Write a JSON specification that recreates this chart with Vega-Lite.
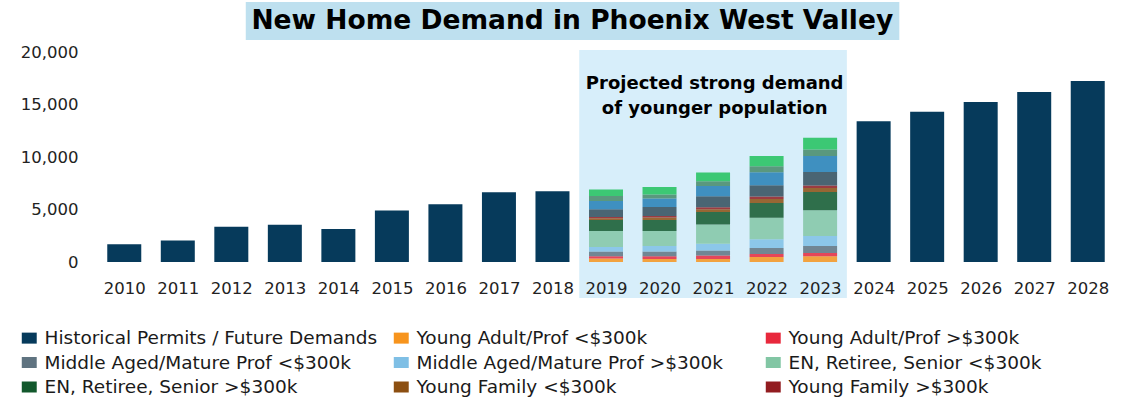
{
  "$schema": "https://vega.github.io/schema/vega-lite/v6.json",
  "width": 1027,
  "height": 210,
  "autosize": {"type": "none"},
  "padding": {"left": 92.5, "top": 52, "right": 20.5, "bottom": 140},
  "background": "white",
  "config": {"view": {"stroke": null}, "font": "DejaVu Sans"},
  "datasets": {
    "demand": [
      {"year": 2010, "series": "Historical Permits / Future Demands", "value": 1700},
      {"year": 2011, "series": "Historical Permits / Future Demands", "value": 2050},
      {"year": 2012, "series": "Historical Permits / Future Demands", "value": 3350},
      {"year": 2013, "series": "Historical Permits / Future Demands", "value": 3550},
      {"year": 2014, "series": "Historical Permits / Future Demands", "value": 3150},
      {"year": 2015, "series": "Historical Permits / Future Demands", "value": 4900},
      {"year": 2016, "series": "Historical Permits / Future Demands", "value": 5500},
      {"year": 2017, "series": "Historical Permits / Future Demands", "value": 6650},
      {"year": 2018, "series": "Historical Permits / Future Demands", "value": 6750},
      {"year": 2024, "series": "Historical Permits / Future Demands", "value": 13400},
      {"year": 2025, "series": "Historical Permits / Future Demands", "value": 14300},
      {"year": 2026, "series": "Historical Permits / Future Demands", "value": 15250},
      {"year": 2027, "series": "Historical Permits / Future Demands", "value": 16200},
      {"year": 2028, "series": "Historical Permits / Future Demands", "value": 17250},

      {"year": 2019, "series": "Young Adult/Prof <$300k", "value": 325},
      {"year": 2019, "series": "Young Adult/Prof >$300k", "value": 220},
      {"year": 2019, "series": "Middle Aged/Mature Prof <$300k", "value": 450},
      {"year": 2019, "series": "Middle Aged/Mature Prof >$300k", "value": 440},
      {"year": 2019, "series": "EN, Retiree, Senior <$300k", "value": 1525},
      {"year": 2019, "series": "EN, Retiree, Senior >$300k", "value": 1050},
      {"year": 2019, "series": "Young Family <$300k", "value": 160},
      {"year": 2019, "series": "Young Family >$300k", "value": 125},
      {"year": 2019, "series": "Other 1", "value": 730},
      {"year": 2019, "series": "Other 2", "value": 790},
      {"year": 2019, "series": "Other 3", "value": 475},
      {"year": 2019, "series": "Other 4", "value": 610},

      {"year": 2020, "series": "Young Adult/Prof <$300k", "value": 285},
      {"year": 2020, "series": "Young Adult/Prof >$300k", "value": 255},
      {"year": 2020, "series": "Middle Aged/Mature Prof <$300k", "value": 450},
      {"year": 2020, "series": "Middle Aged/Mature Prof >$300k", "value": 535},
      {"year": 2020, "series": "EN, Retiree, Senior <$300k", "value": 1430},
      {"year": 2020, "series": "EN, Retiree, Senior >$300k", "value": 1050},
      {"year": 2020, "series": "Young Family <$300k", "value": 230},
      {"year": 2020, "series": "Young Family >$300k", "value": 150},
      {"year": 2020, "series": "Other 1", "value": 855},
      {"year": 2020, "series": "Other 2", "value": 800},
      {"year": 2020, "series": "Other 3", "value": 380},
      {"year": 2020, "series": "Other 4", "value": 725},

      {"year": 2021, "series": "Young Adult/Prof <$300k", "value": 285},
      {"year": 2021, "series": "Young Adult/Prof >$300k", "value": 325},
      {"year": 2021, "series": "Middle Aged/Mature Prof <$300k", "value": 475},
      {"year": 2021, "series": "Middle Aged/Mature Prof >$300k", "value": 665},
      {"year": 2021, "series": "EN, Retiree, Senior <$300k", "value": 1810},
      {"year": 2021, "series": "EN, Retiree, Senior >$300k", "value": 1200},
      {"year": 2021, "series": "Young Family <$300k", "value": 255},
      {"year": 2021, "series": "Young Family >$300k", "value": 190},
      {"year": 2021, "series": "Other 1", "value": 1050},
      {"year": 2021, "series": "Other 2", "value": 980},
      {"year": 2021, "series": "Other 3", "value": 450},
      {"year": 2021, "series": "Other 4", "value": 830},

      {"year": 2022, "series": "Young Adult/Prof <$300k", "value": 475},
      {"year": 2022, "series": "Young Adult/Prof >$300k", "value": 285},
      {"year": 2022, "series": "Middle Aged/Mature Prof <$300k", "value": 570},
      {"year": 2022, "series": "Middle Aged/Mature Prof >$300k", "value": 830},
      {"year": 2022, "series": "EN, Retiree, Senior <$300k", "value": 2065},
      {"year": 2022, "series": "EN, Retiree, Senior >$300k", "value": 1390},
      {"year": 2022, "series": "Young Family <$300k", "value": 380},
      {"year": 2022, "series": "Young Family >$300k", "value": 255},
      {"year": 2022, "series": "Other 1", "value": 1050},
      {"year": 2022, "series": "Other 2", "value": 1240},
      {"year": 2022, "series": "Other 3", "value": 570},
      {"year": 2022, "series": "Other 4", "value": 980},

      {"year": 2023, "series": "Young Adult/Prof <$300k", "value": 540},
      {"year": 2023, "series": "Young Adult/Prof >$300k", "value": 315},
      {"year": 2023, "series": "Middle Aged/Mature Prof <$300k", "value": 665},
      {"year": 2023, "series": "Middle Aged/Mature Prof >$300k", "value": 950},
      {"year": 2023, "series": "EN, Retiree, Senior <$300k", "value": 2450},
      {"year": 2023, "series": "EN, Retiree, Senior >$300k", "value": 1740},
      {"year": 2023, "series": "Young Family <$300k", "value": 380},
      {"year": 2023, "series": "Young Family >$300k", "value": 255},
      {"year": 2023, "series": "Other 1", "value": 1270},
      {"year": 2023, "series": "Other 2", "value": 1525},
      {"year": 2023, "series": "Other 3", "value": 635},
      {"year": 2023, "series": "Other 4", "value": 1115}
    ]
  },
  "layer": [
    {
      "data": {"values": [{}]},
      "mark": {"type": "rect", "fill": "#d7eefa"},
      "encoding": {
        "x": {"datum": 2018.5, "type": "quantitative", "scale": {"domain": [2009.5, 2028.5], "nice": false, "zero": false}},
        "x2": {"datum": 2023.5},
        "y": {"datum": -3430, "type": "quantitative", "scale": {"domain": [0, 20000], "nice": false}},
        "y2": {"datum": 20190}
      }
    },
    {
      "data": {"values": [{}]},
      "mark": {"type": "rect", "fill": "#bee0ef"},
      "encoding": {
        "x": {"datum": 2012.27, "type": "quantitative", "scale": {"domain": [2009.5, 2028.5], "nice": false, "zero": false}},
        "x2": {"datum": 2024.48},
        "y": {"datum": 21143, "type": "quantitative", "scale": {"domain": [0, 20000], "nice": false}},
        "y2": {"datum": 24762}
      }
    },
    {
      "data": {"name": "demand"},
      "transform": [
        {"calculate": "indexof(['Historical Permits / Future Demands', 'Young Adult/Prof <$300k', 'Young Adult/Prof >$300k', 'Middle Aged/Mature Prof <$300k', 'Middle Aged/Mature Prof >$300k', 'EN, Retiree, Senior <$300k', 'EN, Retiree, Senior >$300k', 'Young Family <$300k', 'Young Family >$300k', 'Other 1', 'Other 2', 'Other 3', 'Other 4'], datum.series)", "as": "stackOrder"}
      ],
      "mark": {"type": "bar", "width": 34},
      "encoding": {
        "x": {
          "field": "year", "type": "quantitative",
          "scale": {"domain": [2009.5, 2028.5], "nice": false, "zero": false},
          "axis": {
            "title": null, "values": [2010, 2011, 2012, 2013, 2014, 2015, 2016, 2017, 2018, 2019, 2020, 2021, 2022, 2023, 2024, 2025, 2026, 2027, 2028],
            "labelExpr": "format(datum.value, 'd')", "zindex": 1,
            "grid": false, "domain": false, "ticks": false, "tickSize": 0,
            "labelPadding": 18, "labelFont": "DejaVu Sans", "labelFontSize": 16.5, "labelColor": "#222222", "labelFlush": false, "labelOverlap": false
          }
        },
        "y": {
          "field": "value", "type": "quantitative", "stack": "zero",
          "scale": {"domain": [0, 20000], "nice": false},
          "axis": {
            "title": null, "values": [0, 5000, 10000, 15000, 20000],
            "labelExpr": "format(datum.value, ',')", "zindex": 1,
            "grid": false, "domain": false, "ticks": false, "tickSize": 0,
            "labelPadding": 14.5, "labelFont": "DejaVu Sans", "labelFontSize": 16.5, "labelColor": "#222222"
          }
        },
        "order": {"field": "stackOrder", "type": "quantitative", "sort": "ascending"},
        "color": {
          "field": "series", "type": "nominal",
          "sort": ["Historical Permits / Future Demands", "Young Adult/Prof <$300k", "Young Adult/Prof >$300k", "Middle Aged/Mature Prof <$300k", "Middle Aged/Mature Prof >$300k", "EN, Retiree, Senior <$300k", "EN, Retiree, Senior >$300k", "Young Family <$300k", "Young Family >$300k", "Other 1", "Other 2", "Other 3", "Other 4"],
          "scale": {
            "domain": ["Historical Permits / Future Demands", "Young Adult/Prof <$300k", "Young Adult/Prof >$300k", "Middle Aged/Mature Prof <$300k", "Middle Aged/Mature Prof >$300k", "EN, Retiree, Senior <$300k", "EN, Retiree, Senior >$300k", "Young Family <$300k", "Young Family >$300k", "Other 1", "Other 2", "Other 3", "Other 4"],
            "range": ["#063a5b", "#f7941d", "#e8283c", "#5f7380", "#7fbfe5", "#82c6a4", "#12582c", "#8c4f11", "#921c20", "#314c5b", "#257fb5", "#448867", "#21c15c"]
          },
          "legend": {
            "values": ["Historical Permits / Future Demands", "Young Adult/Prof <$300k", "Young Adult/Prof >$300k", "Middle Aged/Mature Prof <$300k", "Middle Aged/Mature Prof >$300k", "EN, Retiree, Senior <$300k", "EN, Retiree, Senior >$300k", "Young Family <$300k", "Young Family >$300k"],
            "orient": "none", "legendX": -72.5, "legendY": 276.75, "direction": "horizontal", "columns": 3,
            "title": null, "padding": 0, "gridAlign": "all", "columnPadding": 14, "rowPadding": 5.5,
            "labelFont": "DejaVu Sans", "labelFontSize": 18.5, "labelColor": "#1a1a1a", "labelLimit": 600, "labelOffset": 6,
            "symbolType": "M-1.36,-1H1.36V1H-1.36Z", "symbolSize": 121, "symbolOpacity": 1, "symbolStrokeWidth": 0
          }
        },
        "opacity": {
          "condition": {"test": "datum.series === 'Historical Permits / Future Demands'", "value": 1},
          "value": 0.85
        }
      }
    },
    {
      "data": {"values": [{}]},
      "mark": {"type": "text", "text": "New Home Demand in Phoenix West Valley", "font": "DejaVu Sans", "fontWeight": "bold", "fontSize": 26.5, "color": "#000000", "align": "center", "baseline": "middle"},
      "encoding": {
        "x": {"datum": 2018.37, "type": "quantitative", "scale": {"domain": [2009.5, 2028.5], "nice": false, "zero": false}},
        "y": {"datum": 22950, "type": "quantitative", "scale": {"domain": [0, 20000], "nice": false}}
      }
    },
    {
      "data": {"values": [{}]},
      "mark": {"type": "text", "text": ["Projected strong demand", "of younger population"], "font": "DejaVu Sans", "fontWeight": "bold", "fontSize": 18, "lineHeight": 25, "color": "#000000", "align": "center", "baseline": "middle"},
      "encoding": {
        "x": {"datum": 2021.03, "type": "quantitative", "scale": {"domain": [2009.5, 2028.5], "nice": false, "zero": false}},
        "y": {"datum": 16905, "type": "quantitative", "scale": {"domain": [0, 20000], "nice": false}}
      }
    }
  ]
}
